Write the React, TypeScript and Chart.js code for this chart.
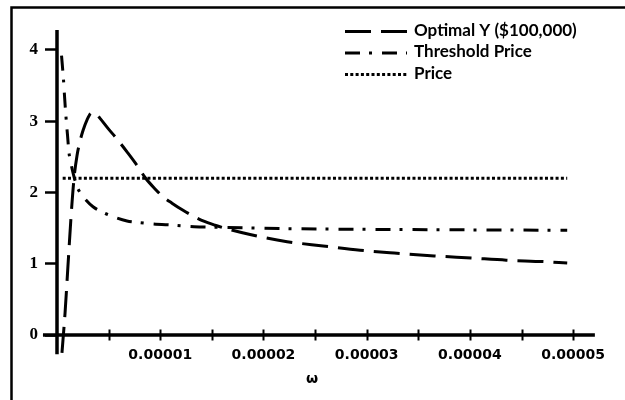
import React, { useEffect, useRef } from 'react';
import { Chart, registerables } from 'chart.js';

Chart.register(...registerables);

// ---- data ----
const seriesLabels = ['Optimal Y ($100,000)', 'Threshold Price', 'Price'];

const optimalX = [
  4.8e-7, 7.8e-7, 1.07e-6, 1.36e-6, 1.65e-6, 1.94e-6, 2.23e-6, 2.52e-6, 2.91e-6, 3.29e-6,
  3.68e-6, 4.17e-6, 4.94e-6, 5.81e-6, 6.78e-6, 7.85e-6, 8.53e-6, 9.5e-6, 1.027e-5, 1.114e-5,
  1.221e-5, 1.318e-5, 1.415e-5, 1.531e-5, 1.647e-5, 1.87e-5, 2.229e-5, 2.578e-5, 2.936e-5,
  3.266e-5, 3.653e-5, 4.012e-5, 4.351e-5, 4.709e-5, 4.942e-5,
];
const optimalY = [
  -0.25, 0.31, 0.99, 1.66, 2.2, 2.52, 2.72, 2.87, 3.02, 3.11,
  3.12, 3.04, 2.9, 2.75, 2.57, 2.36, 2.21, 2.05, 1.94, 1.85,
  1.75, 1.67, 1.6, 1.54, 1.49, 1.41, 1.31, 1.25, 1.19,
  1.15, 1.11, 1.08, 1.05, 1.03, 1.01,
];

const thresholdX = [
  4.4e-7, 4.8e-7, 6.3e-7, 7.3e-7, 8.7e-7, 1.02e-6, 1.16e-6, 1.36e-6, 1.65e-6, 1.94e-6,
  2.23e-6, 2.71e-6, 3.49e-6, 4.46e-6, 5.62e-6, 6.78e-6, 7.85e-6, 9.21e-6, 1.143e-5,
  1.328e-5, 1.647e-5, 2.355e-5, 3.324e-5, 4.942e-5,
];
const thresholdY = [
  3.92, 3.85, 3.58, 3.35, 3.06, 2.8, 2.56, 2.4, 2.22, 2.08,
  2.0, 1.91, 1.8, 1.72, 1.65, 1.6, 1.58, 1.56, 1.54,
  1.52, 1.51, 1.49, 1.48, 1.47,
];

const priceX = [5.5e-7, 4.942e-5];
const priceY = [2.2, 2.2];

const xTickValues = [0.000005, 0.00001, 0.000015, 0.00002, 0.000025, 0.00003, 0.000035, 0.00004, 0.000045, 0.00005];
const xTickLabels = ['', '0.00001', '', '0.00002', '', '0.00003', '', '0.00004', '', '0.00005'];
const yTickValues = [0, 1, 2, 3, 4];
const yTickLabels = ['0', '1', '2', '3', '4'];
const xAxisTitle = 'ω';

// axis line extents (data units) for the crossing axes
const xAxisExtent = [-0.00000136, 0.0000521];
const yAxisExtent = [-0.27, 4.28];

const toPoints = (xs: number[], ys: number[]) => xs.map((x, i) => ({ x, y: ys[i] }));

const frameLine = {
  id: 'frameLine',
  beforeDraw(chart: any) {
    const { ctx, width, height } = chart;
    ctx.save();
    ctx.strokeStyle = '#000';
    ctx.lineWidth = 2.5;
    ctx.beginPath();
    ctx.moveTo(11.5, height);
    ctx.lineTo(11.5, 7.5);
    ctx.lineTo(width, 7.5);
    ctx.stroke();
    ctx.restore();
  },
};

const crossAxes = {
  id: 'crossAxes',
  beforeDatasetsDraw(chart: any) {
    const { ctx } = chart;
    const xs = chart.scales.x;
    const ys = chart.scales.y;
    const x0 = xs.getPixelForValue(0);
    const y0 = ys.getPixelForValue(0);
    ctx.save();
    ctx.strokeStyle = '#000';
    ctx.lineWidth = 3.5;
    ctx.beginPath();
    ctx.moveTo(xs.getPixelForValue(xAxisExtent[0]), y0);
    ctx.lineTo(xs.getPixelForValue(xAxisExtent[1]), y0);
    ctx.moveTo(x0, ys.getPixelForValue(yAxisExtent[0]));
    ctx.lineTo(x0, ys.getPixelForValue(yAxisExtent[1]));
    ctx.stroke();
    ctx.lineWidth = 2;
    ctx.beginPath();
    xs.ticks.forEach((t: any) => {
      const px = Math.round(xs.getPixelForValue(t.value)) + 0.5;
      ctx.moveTo(px, y0 - 5.5);
      ctx.lineTo(px, y0 + 5.5);
    });
    ctx.stroke();
    ctx.restore();
  },
};

const lineLegend = {
  id: 'lineLegend',
  afterDraw(chart: any) {
    const { ctx } = chart;
    const sampleStart = 345;
    const sampleEnd = 407;
    const textX = 414;
    const rowTop = 31.5;
    const rowGap = 21.5;
    chart.data.datasets.forEach((ds: any, i: number) => {
      const yy = rowTop + i * rowGap;
      ctx.save();
      ctx.strokeStyle = '#000';
      ctx.lineWidth = ds.borderWidth;
      ctx.setLineDash(ds.borderDash || []);
      ctx.beginPath();
      ctx.moveTo(sampleStart, yy);
      ctx.lineTo(sampleEnd, yy);
      ctx.stroke();
      ctx.setLineDash([]);
      ctx.fillStyle = '#000';
      ctx.font = 'bold 17px Lato';
      ctx.textBaseline = 'middle';
      ctx.textAlign = 'left';
      ctx.fillText(ds.label, textX, yy - 1);
      ctx.restore();
    });
  },
};

export default function App() {
  const canvasRef = useRef<HTMLCanvasElement | null>(null);

  useEffect(() => {
    if (!canvasRef.current) return;
    const chart = new Chart(canvasRef.current, {
      type: 'line',
      data: {
        datasets: [
          {
            label: seriesLabels[0],
            data: toPoints(optimalX, optimalY),
            borderColor: '#000',
            borderWidth: 3,
            borderDash: [26, 10],
            pointRadius: 0,
            fill: false,
            cubicInterpolationMode: 'monotone',
            clip: false,
          },
          {
            label: seriesLabels[1],
            data: toPoints(thresholdX, thresholdY),
            borderColor: '#000',
            borderWidth: 3,
            borderDash: [15, 9, 3, 10],
            pointRadius: 0,
            fill: false,
            cubicInterpolationMode: 'monotone',
            clip: false,
          },
          {
            label: seriesLabels[2],
            data: toPoints(priceX, priceY),
            borderColor: '#000',
            borderWidth: 3,
            borderDash: [3, 2.3],
            pointRadius: 0,
            fill: false,
            clip: false,
          },
        ],
      },
      options: {
        animation: false,
        responsive: true,
        maintainAspectRatio: false,
        events: [],
        layout: { padding: { left: 17, top: 30, right: 58, bottom: 10 } },
        plugins: { legend: { display: false }, tooltip: { enabled: false } },
        scales: {
          x: {
            type: 'linear',
            min: 0,
            max: 0.0000494,
            bounds: 'data',
            grid: { display: false, drawTicks: false },
            border: { display: false },
            afterBuildTicks: (scale: any) => {
              scale.ticks = xTickValues.map((v) => ({ value: v }));
            },
            afterFit: (scale: any) => {
              scale.height = 55;
            },
            ticks: {
              autoSkip: false,
              maxRotation: 0,
              padding: 12,
              color: '#000',
              font: { family: 'DejaVu Sans', size: 14, weight: 'bold' },
              callback: (_v: any, index: number) => xTickLabels[index],
            },
            title: {
              display: true,
              text: xAxisTitle,
              color: '#000',
              font: { family: 'DejaVu Sans', size: 14, weight: 'bold' },
              padding: { top: 4, bottom: 2.5 },
            },
          },
          y: {
            type: 'linear',
            min: 0,
            max: 4.28,
            bounds: 'data',
            grid: {
              display: true,
              drawOnChartArea: false,
              drawTicks: true,
              tickLength: 12,
              tickWidth: 2.5,
              tickColor: '#000',
            },
            border: { display: false },
            afterBuildTicks: (scale: any) => {
              scale.ticks = yTickValues.map((v) => ({ value: v }));
            },
            afterFit: (scale: any) => {
              scale.width = 40;
            },
            ticks: {
              autoSkip: false,
              padding: 7,
              color: '#000',
              font: { family: 'Liberation Serif', size: 17, weight: 'bold' },
              callback: (_v: any, index: number) => yTickLabels[index],
            },
          },
        },
      },
      plugins: [frameLine, crossAxes, lineLegend],
    } as any);
    return () => chart.destroy();
  }, []);

  return (
    <div style={{ position: 'fixed', left: 0, top: 0, width: 625, height: 400, background: '#fff' }}>
      <canvas ref={canvasRef} />
    </div>
  );
}
